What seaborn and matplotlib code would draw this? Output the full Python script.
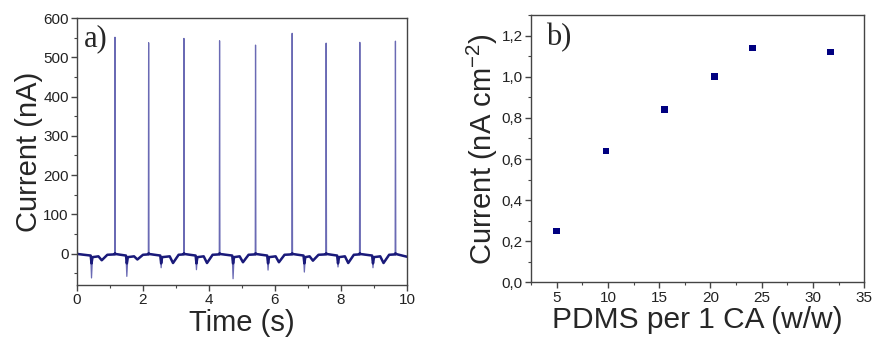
import numpy as np
import pandas as pd
import seaborn as sns
import matplotlib
matplotlib.use("Agg")
import matplotlib.pyplot as plt
from matplotlib.ticker import MultipleLocator, FuncFormatter

# ---- data ----
# panel a) current trace: spikes, sharp dips, broad troughs
spike_t = [0.0, 1.15, 2.17, 3.24, 4.32, 5.41, 6.52, 7.55, 8.57, 9.65]
spike_h = [531, 551, 537, 548, 542, 531, 561, 536, 538, 541]
dip_t = [0.44, 1.51, 2.55, 3.62, 4.73, 5.79, 6.89, 7.91, 8.97]
dip_h = [-62, -58, -36, -41, -64, -42, -47, -34, -36]
trough_t = [0.75, 1.83, 2.91, 3.94, 5.03, 6.12, 7.15, 8.22, 9.29]
trough_h = [-17, -15, -24, -24, -22, -22, -18, -24, -24]
end_t, end_h = 10.0, -8

# panel b) current density vs PDMS ratio
pdms = [5.0, 9.8, 15.5, 20.4, 24.1, 31.7]
current = [0.25, 0.64, 0.84, 1.00, 1.14, 1.12]

# build the trace vertices from the read events
pts = [(0.0, -2)]
for t, h in zip(spike_t, spike_h):
    if t > 0:
        pts.append((t - 0.008, -2))
    pts.append((t + 0.001, h))
    pts.append((t + 0.012, -1))
for t, h in zip(dip_t, dip_h):
    pts += [(t - 0.025, -5), (t, h), (t + 0.03, -9)]
for t, h in zip(trough_t, trough_h):
    pts += [(t - 0.1, -7), (t, h), (t + 0.17, -3)]
pts.append((end_t, end_h))
trace = pd.DataFrame(sorted(pts), columns=["time", "current"])

sns.set_style("ticks")
plt.rcParams["font.family"] = ["Liberation Sans", "DejaVu Sans"]
plt.rcParams["mathtext.default"] = "regular"
plt.rcParams["axes.edgecolor"] = "#444444"
plt.rcParams["xtick.color"] = "#444444"
plt.rcParams["ytick.color"] = "#444444"
plt.rcParams["xtick.labelcolor"] = "#222222"
plt.rcParams["ytick.labelcolor"] = "#222222"

fig = plt.figure(figsize=(8.72, 3.41), dpi=100)
ax1 = fig.add_axes([0.0883, 0.1642, 0.3784, 0.783])
ax2 = fig.add_axes([0.609, 0.1716, 0.382, 0.7845])

# panel a
sns.lineplot(data=trace, x="time", y="current", ax=ax1, color="#6a6ab4",
             lw=0.9, estimator=None, sort=False)
# thicker noisy-looking baseline (spikes and sharp dips stay thin)
base = trace.assign(current=trace["current"].clip(lower=-25, upper=1))
sns.lineplot(data=base, x="time", y="current", ax=ax1, color="#1a1a7a",
             lw=1.8, estimator=None, sort=False)
ax1.set_xlim(0, 10)
ax1.set_ylim(-80, 600)
ax1.xaxis.set_major_locator(MultipleLocator(2))
ax1.xaxis.set_minor_locator(MultipleLocator(1))
ax1.yaxis.set_major_locator(MultipleLocator(100))
ax1.yaxis.set_minor_locator(MultipleLocator(50))
ax1.set_xlabel("Time (s)", fontsize=21, labelpad=1)
ax1.set_ylabel("Current (nA)", fontsize=21, labelpad=0)
ax1.text(0.02, 0.975, "a)", transform=ax1.transAxes, fontsize=22,
         family="Liberation Serif", va="top", ha="left")

# panel b
sns.scatterplot(x=pdms, y=current, ax=ax2, marker="s", s=22,
                color="#000080", edgecolor="none")
ax2.set_xlim(2.5, 35)
ax2.set_ylim(0, 1.3)
ax2.xaxis.set_major_locator(MultipleLocator(5))
ax2.xaxis.set_minor_locator(MultipleLocator(2.5))
ax2.yaxis.set_major_locator(MultipleLocator(0.2))
ax2.yaxis.set_minor_locator(MultipleLocator(0.1))
ax2.yaxis.set_major_formatter(FuncFormatter(lambda v, p: f"{v:.1f}".replace(".", ",")))
ax2.set_xlabel("PDMS per 1 CA (w/w)", fontsize=21.5, labelpad=1)
ax2.set_ylabel("Current (nA cm$^{-2}$)", fontsize=21, labelpad=1)
ax2.text(0.045, 0.97, "b)", transform=ax2.transAxes, fontsize=22,
         family="Liberation Serif", va="top", ha="left")

for ax in (ax1, ax2):
    for s in ax.spines.values():
        s.set_visible(True)
        s.set_linewidth(1.0)
    ax.tick_params(which="major", length=4, width=1, labelsize=11, pad=2)
    ax.tick_params(which="minor", length=2.5, width=0.8)
    ax.tick_params(top=False, right=False, which="both")

fig.savefig("out.png", dpi=100)
